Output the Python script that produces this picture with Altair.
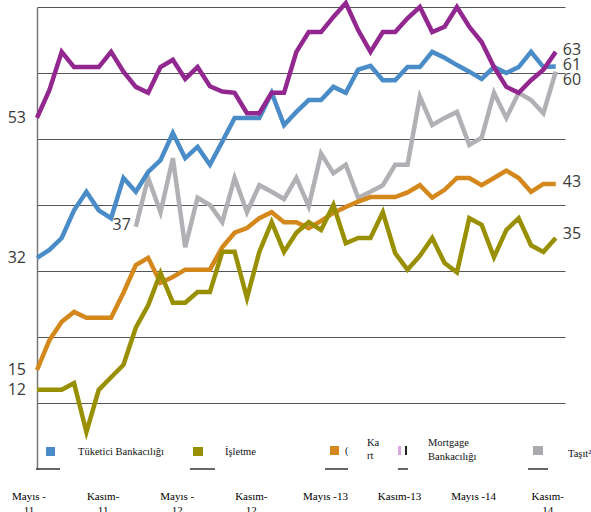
import altair as alt
import pandas as pd

# ---------------- data ----------------
series_names = ["Tüketici Bankacılığı", "İşletme Bankacılığı", "Kart",
                "Mortgage Bankacılığı", "Taşıt"]

tuketici = [32.0, 33.2, 35.0, 39.2, 42.0, 39.2, 38.0, 44.1, 42.0, 45.0, 46.8,
            50.9, 47.1, 48.8, 46.1, 49.6, 53.2, 53.2, 53.2, 57.0, 52.1, 54.1,
            55.9, 55.9, 57.9, 57.0, 60.5, 61.1, 58.9, 58.9, 60.9, 60.9, 63.2,
            62.3, 61.2, 60.2, 59.1, 60.9, 60.0, 60.9, 63.2, 60.9, 61.0]
isletme = [12.0, 12.0, 12.0, 13.0, 5.6, 12.0, 13.9, 15.8, 21.4, 24.8, 29.7,
           25.2, 25.2, 26.8, 26.8, 32.9, 32.9, 25.9, 32.9, 37.4, 32.9, 35.8,
           37.4, 36.2, 40.0, 34.2, 35.0, 35.0, 38.9, 32.7, 30.2, 32.3, 35.0,
           31.2, 29.8, 38.0, 37.0, 32.1, 36.2, 38.0, 33.9, 32.9, 35.0]
kart = [15.0, 19.5, 22.3, 23.8, 22.9, 22.9, 22.9, 26.7, 30.9, 32.0, 28.2,
        29.1, 30.2, 30.2, 30.2, 33.6, 35.8, 36.5, 38.0, 38.9, 37.4, 37.4,
        36.5, 37.6, 38.8, 39.7, 40.5, 41.2, 41.2, 41.2, 41.9, 43.0, 41.1,
        42.3, 44.1, 44.1, 43.0, 44.1, 45.2, 44.1, 42.0, 43.2, 43.2]
mortgage = [53.2, 57.4, 63.2, 60.9, 60.9, 60.9, 63.2, 60.2, 57.9, 57.0, 60.9,
            62.0, 59.1, 60.9, 58.0, 57.2, 57.0, 53.9, 53.9, 57.0, 57.0, 63.2,
            66.2, 66.2, 68.5, 70.6, 66.5, 63.2, 66.2, 66.2, 68.3, 70.0, 66.2,
            67.0, 70.0, 67.0, 64.7, 60.9, 57.9, 57.0, 58.9, 60.5, 63.2]
tasit = [None] * 8 + [36.7, 44.1, 38.9, 47.1, 33.6, 41.1, 40.0, 37.4, 44.1,
                      38.9, 43.0, 42.0, 40.9, 44.1, 39.8, 47.8, 44.8, 46.1,
                      41.1, 42.0, 43.0, 46.1, 46.1, 56.4, 52.1, 53.2, 54.1,
                      49.1, 50.2, 57.0, 53.2, 57.0, 55.9, 53.9, 60.2]

tick_index = [0, 6, 12, 18, 24, 30, 36, 42]
tick_labels = ["Mayıs -\n11", "Kasım-\n11", "Mayıs -\n12", "Kasım-\n12",
               "Mayıs -13", "Kasım-13", "Mayıs -14", "Kasım-\n14"]
grid_values = [10, 20, 30, 40, 50, 60, 70]

# ---------------- styling / layout ----------------
colors = {
    "Tüketici Bankacılığı": "#4A8CC8",
    "İşletme Bankacılığı": "#989000",
    "Kart": "#D4881C",
    "Mortgage Bankacılığı": "#92278F",
    "Taşıt": "#B1B1B5",
}
W, H = 528, 462
PL, PT = 37, 7
PR, PB = 591 - PL - W, 512 - PT - H

all_vals = dict(zip(series_names, [tuketici, isletme, kart, mortgage, tasit]))
rows = []
for name, vals in all_vals.items():
    for i, v in enumerate(vals):
        if v is not None:
            rows.append({"series": name, "idx": i, "value": v})
df = pd.DataFrame(rows)

x_enc = alt.X("idx:Q", scale=alt.Scale(domain=[0, 42.75], nice=False, zero=False), axis=None)
y_enc = alt.Y("value:Q", scale=alt.Scale(domain=[0, 70], nice=False),
              axis=alt.Axis(values=grid_values, grid=True, labels=False, ticks=False,
                            title=None, domainColor="#777", domainWidth=1.5,
                            gridColor="#555", gridWidth=1.2))

layers = []
for name in ["Taşıt", "Kart", "İşletme Bankacılığı", "Tüketici Bankacılığı", "Mortgage Bankacılığı"]:
    layers.append(
        alt.Chart(df[df.series == name]).mark_line(color=colors[name], strokeWidth=4.5)
        .encode(x=x_enc, y=y_enc)
    )

# start / end value labels
start_off = {"Taşıt": (-5, -2)}
end_off = {"Mortgage Bankacılığı": -2, "Tüketici Bankacılığı": -1, "Taşıt": 8,
           "Kart": -2, "İşletme Bankacılığı": -4}
for name in series_names:
    sub = df[df.series == name]
    first = sub.iloc[[0]].assign(label=lambda d: d.value.round().astype(int).astype(str))
    last = sub.iloc[[-1]].assign(label=lambda d: d.value.round().astype(int).astype(str))
    dx, dy = start_off.get(name, (-11, 0))
    layers.append(alt.Chart(first).mark_text(align="right", baseline="middle", dx=dx, dy=dy,
                                             font="Open Sans", fontSize=16, color="#3a3a3a")
                  .encode(x=x_enc, y=y_enc, text="label:N"))
    layers.append(alt.Chart(last).mark_text(align="left", baseline="middle", dx=7, dy=end_off[name],
                                            font="Open Sans", fontSize=16, color="#3a3a3a")
                  .encode(x=x_enc, y=y_enc, text="label:N"))

# x labels
tick_df = pd.DataFrame({"idx": tick_index, "label": tick_labels})
layers.append(alt.Chart(tick_df).mark_text(align="center", baseline="top", dx=-8,
                                           lineBreak="\n", lineHeight=14,
                                           font="Liberation Serif", fontSize=11, color="#000")
              .encode(x=x_enc, y=alt.value(491 - PT), text="label:N"))

# legend (drawn manually, as in the reference)
one = pd.DataFrame({"k": [0]})

def rect(x0, y0, x1, y1, color):
    return alt.Chart(one).mark_rect(color=color).encode(
        x=alt.value(x0 - PL), x2=alt.value(x1 - PL), y=alt.value(y0 - PT), y2=alt.value(y1 - PT))

def txt(s, x, y, size=10.5):
    return alt.Chart(one).mark_text(align="left", baseline="middle", font="Liberation Serif",
                                    fontSize=size, color="#111").encode(
        x=alt.value(x - PL), y=alt.value(y - PT), text=alt.value(s))

def rule(x0, x1, y):
    return alt.Chart(one).mark_rule(color="#333", strokeWidth=1.5).encode(
        x=alt.value(x0 - PL), x2=alt.value(x1 - PL), y=alt.value(y - PT))

layers += [
    rect(46, 447, 55, 456, colors["Tüketici Bankacılığı"]),
    rect(193, 447, 203, 456, colors["İşletme Bankacılığı"]),
    rect(330, 446, 339, 455, colors["Kart"]),
    rect(398, 446, 401, 455, "#D9A8E0"),
    rect(405, 446, 407, 455, "#222"),
    rect(533, 446, 543, 455, "#AAAAAE"),
    txt("Tüketici Bankacılığı", 78, 452),
    txt("İşletme", 225, 452),
    txt("(", 345, 451),
    txt("Ka", 367, 443),
    txt("rt", 367, 456),
    txt("Mortgage", 428, 443),
    txt("Bankacılığı", 428, 457),
    txt("Taşıt²", 568, 454),
    rule(36, 60, 469), rule(190, 215, 469), rule(325, 348, 469),
    rule(398, 408, 469), rule(528, 548, 469),
]

chart = (
    alt.layer(*layers)
    .properties(width=W, height=H,
                padding={"left": PL, "top": PT, "right": PR, "bottom": PB},
                autosize=alt.AutoSizeParams(type="none"),
                background="white")
    .configure_view(stroke=None)
)

chart.save("out.html", embed_options={"renderer": "svg", "actions": False})
